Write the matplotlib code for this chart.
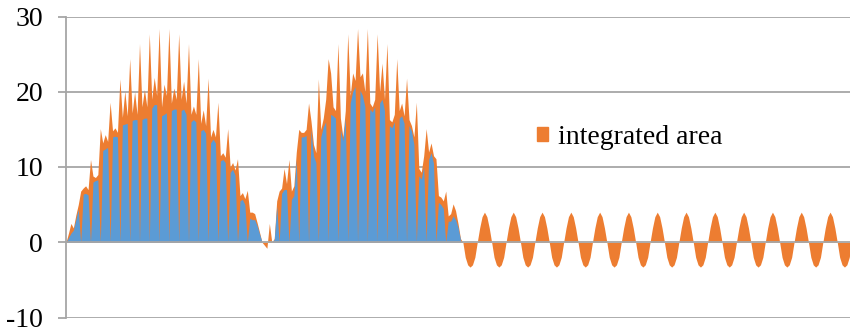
import matplotlib
matplotlib.use("Agg")
import matplotlib.pyplot as plt
import numpy as np
from matplotlib.patches import Patch

# two pulse trains (sample step 2.45), then the residual oscillation (sample step 2.4)
orangeMain = [
    0.0, 1.2, 2.5, 1.9, 3.6, 5.0, 6.8, 7.2, 7.5, 7.0,
    11.0, 8.8, 8.6, 9.0, 15.1, 13.2, 14.3, 13.4, 18.6, 14.8,
    15.2, 14.6, 21.7, 16.6, 20.1, 16.8, 24.4, 17.2, 20.0, 17.0,
    26.4, 18.0, 20.3, 18.0, 27.7, 19.0, 21.9, 19.5, 28.4, 18.0,
    21.0, 19.5, 28.4, 18.5, 20.5, 19.0, 27.7, 19.0, 21.4, 18.5,
    26.4, 17.0, 18.1, 17.0, 24.4, 15.8, 17.6, 15.5, 21.8, 14.0,
    15.0, 14.0, 18.6, 11.5, 11.9, 11.3, 15.1, 10.0, 10.6, 9.6,
    11.1, 6.2, 6.6, 5.8, 6.9, 4.0, 4.0, 3.8, 2.6, 1.3,
    0.0, -0.4, -0.8, 2.5, 0.0,
    0.5, 5.5, 6.8, 7.2, 9.8, 7.8, 11.0, 6.8, 7.5, 12.0,
    15.0, 14.6, 14.6, 15.0, 18.5, 16.1, 13.0, 11.9, 21.7, 15.0,
    16.5, 19.0, 24.4, 22.5, 18.0, 17.5, 26.4, 16.5, 14.0, 17.5,
    27.7, 19.5, 22.5, 21.5, 28.4, 22.0, 22.5, 20.0, 28.4, 18.5,
    18.0, 19.0, 27.7, 20.0, 23.8, 19.0, 26.4, 16.3, 16.0, 17.0,
    24.4, 17.5, 18.5, 16.8, 21.8, 16.3, 15.5, 14.0, 18.6, 9.8,
    9.3, 11.5, 15.1, 12.0, 13.2, 11.5, 11.1, 6.2, 6.0, 5.5,
    6.8, 3.5, 3.8, 5.1, 4.2, 2.5, 0.5,
]
blueMain = [
    0.0, 0.6, 1.2, 1.6, 3.0, 4.4, 0.0, 6.4, 6.5, 6.3,
    0.0, 8.0, 8.2, 8.3, 0.0, 12.2, 12.4, 12.6, 0.0, 14.0,
    14.1, 14.0, 0.0, 15.6, 15.7, 15.8, 0.0, 16.2, 16.3, 16.3,
    0.0, 16.3, 16.5, 16.5, 0.0, 17.8, 18.3, 18.3, 0.0, 16.8,
    17.0, 17.2, 0.0, 17.5, 17.7, 17.7, 0.0, 17.5, 17.7, 17.0,
    0.0, 16.0, 16.3, 16.0, 0.0, 14.8, 15.0, 14.5, 0.0, 13.2,
    13.7, 13.2, 0.0, 10.8, 11.0, 10.6, 0.0, 9.3, 9.7, 8.9,
    0.0, 5.5, 5.7, 5.0, 0.0, 3.2, 3.0, 3.0, 2.2, 1.1,
    0.0, 0.0, 0.0, 0.0, 0.0,
    0.4, 4.8, 0.0, 6.5, 7.0, 7.0, 0.0, 5.7, 6.2, 11.0,
    0.0, 14.0, 14.0, 14.2, 0.0, 15.0, 11.5, 10.6, 0.0, 14.0,
    15.3, 16.0, 0.0, 17.0, 16.8, 16.5, 0.0, 15.0, 13.5, 16.5,
    0.0, 18.5, 20.0, 20.7, 0.0, 20.2, 19.5, 18.0, 0.0, 17.7,
    17.3, 18.0, 0.0, 18.5, 19.0, 17.5, 0.0, 15.5, 15.2, 16.0,
    0.0, 16.5, 16.8, 15.8, 0.0, 15.5, 14.8, 13.0, 0.0, 8.8,
    8.4, 10.0, 0.0, 11.0, 11.9, 10.5, 0.0, 5.3, 5.0, 4.5,
    0.0, 2.8, 2.8, 3.5, 3.0, 2.0, 0.4,
]
orangeTail = [
    0.0, -2.0, -3.0, -3.3, -3.0, -2.0, 0.0, 1.9, 3.4, 4.0, 3.4, 1.9,
    0.0, -2.0, -3.0, -3.3, -3.0, -2.0, 0.0, 1.9, 3.4, 4.0, 3.4, 1.9,
    0.0, -2.0, -3.0, -3.3, -3.0, -2.0, 0.0, 1.9, 3.4, 4.0, 3.4, 1.9,
    0.0, -2.0, -3.0, -3.3, -3.0, -2.0, 0.0, 1.9, 3.4, 4.0, 3.4, 1.9,
    0.0, -2.0, -3.0, -3.3, -3.0, -2.0, 0.0, 1.9, 3.4, 4.0, 3.4, 1.9,
    0.0, -2.0, -3.0, -3.3, -3.0, -2.0, 0.0, 1.9, 3.4, 4.0, 3.4, 1.9,
    0.0, -2.0, -3.0, -3.3, -3.0, -2.0, 0.0, 1.9, 3.4, 4.0, 3.4, 1.9,
    0.0, -2.0, -3.0, -3.3, -3.0, -2.0, 0.0, 1.9, 3.4, 4.0, 3.4, 1.9,
    0.0, -2.0, -3.0, -3.3, -3.0, -2.0, 0.0, 1.9, 3.4, 4.0, 3.4, 1.9,
    0.0, -2.0, -3.0, -3.3, -3.0, -2.0, 0.0, 1.9, 3.4, 4.0, 3.4, 1.9,
    0.0, -2.0, -3.0, -3.3, -3.0, -2.0, 0.0, 1.9, 3.4, 4.0, 3.4, 1.9,
    0.0, -2.0, -3.0, -3.3, -3.0, -2.0, 0.0, 1.9, 3.4, 4.0, 3.4, 1.9,
    0.0, -2.0, -3.0, -3.3, -3.0, -2.0, 0.0, 1.9, 3.4, 4.0, 3.4, 1.9,
    0.0, -2.0, -3.0, -3.3, -3.0, -2.0, 0.0,
]
yTicks = [-10, 0, 10, 20, 30]
legendLabel = "integrated area"

orangeColor = "#ED7D31"
blueColor = "#5B9BD5"
gridColor = "#a6a6a6"

plt.rcParams["font.family"] = ["Liberation Serif", "DejaVu Serif"]

tMain = np.arange(len(orangeMain)) * 2.45
tTail = tMain[-1] + 2.4 + np.arange(len(orangeTail)) * 2.4
t = np.concatenate([tMain, tTail])
orange = np.concatenate([orangeMain, orangeTail])

fig = plt.figure(figsize=(8.5, 3.32), dpi=100)
ax = fig.add_axes([66 / 850, 1 - 317.5 / 332, 784 / 850, 301 / 332])

ax.fill_between(t, 0, orange, color=orangeColor, lw=0, zorder=2)
ax.fill_between(tMain, 0, blueMain, color=blueColor, lw=0, zorder=2.5)

ax.set_ylim(yTicks[0], yTicks[-1])
ax.set_xlim(0, 784)
ax.set_yticks(yTicks)
ax.set_yticklabels([str(v) for v in yTicks])
ax.set_xticks([])
for v in yTicks:
    ax.axhline(v, color=gridColor, lw=1.3, zorder=1 if v != 0 else 3)

for side in ["top", "right", "bottom"]:
    ax.spines[side].set_visible(False)
ax.spines["left"].set_color(gridColor)
ax.spines["left"].set_linewidth(1.3)
ax.tick_params(axis="y", direction="out", length=5.5, width=1.3, color=gridColor,
               labelsize=20, pad=11)

ax.legend(handles=[Patch(color=orangeColor, label=legendLabel)],
          loc="center left", bbox_to_anchor=(536.7 / 850, 1 - 137.5 / 332),
          bbox_transform=fig.transFigure, frameon=False, fontsize=20,
          handlelength=0.42, handleheight=0.42, handletextpad=0.35,
          borderpad=0, borderaxespad=0)

fig.savefig("out.png", dpi=100)
